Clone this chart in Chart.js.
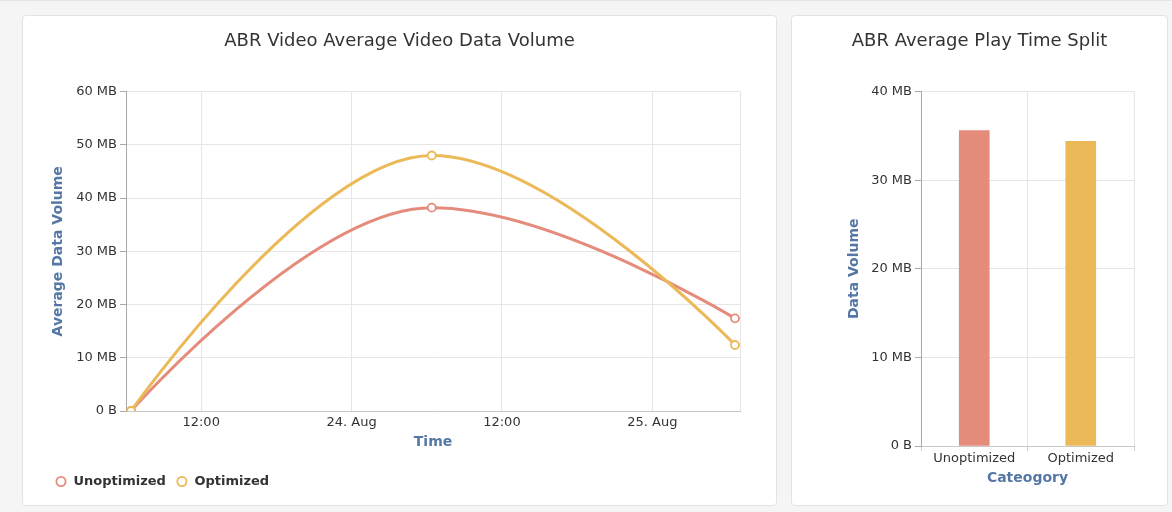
<!DOCTYPE html>
<html>
<head>
<meta charset="utf-8">
<script src="https://cdn.jsdelivr.net/npm/chart.js@4/dist/chart.umd.min.js"></script>
<style>
  html, body { margin: 0; padding: 0; }
  body { width: 1172px; height: 512px; background: #f5f5f5; position: relative; overflow: hidden; border-top: 1px solid #e4e4e4; box-sizing: border-box; }
  .card { position: absolute; background: #fff; border: 1px solid #e3e3e3; border-radius: 4px; box-sizing: border-box; }
  #leftCard { left: 22px; top: 14px; width: 755px; height: 491px; }
  #rightCard { left: 791px; top: 14px; width: 377px; height: 491px; }
  .card canvas { position: absolute; left: 0; top: 0; }
</style>
</head>
<body>
<div class="card" id="leftCard"><canvas id="volumeChart"></canvas></div>
<div class="card" id="rightCard"><canvas id="splitChart"></canvas></div>
<script>
// hours counted from 23 Aug 00:00
const timeHours = [6.4, 30.4, 54.6];
const unoptimizedMB = [0, 38.2, 17.4];
const optimizedMB = [0, 48.0, 12.4];
const timeTickHours = [12, 24, 36, 48, 55];
const timeTickLabels = ['12:00', '24. Aug', '12:00', '25. Aug', ''];

const categories = ['Unoptimized', 'Optimized'];
const playTimeMB = [35.6, 34.4];

const RED = '#e58b7c';
const YELLOW = '#ebb957';
const AXIS_BLUE = '#5577a5';

Chart.defaults.font.family = 'DejaVu Sans';
Chart.defaults.color = '#333';

const mbLabel = v => v === 0 ? '0 B' : v + ' MB';

function toPoints(values) {
    return values.map((v, i) => ({ x: timeHours[i], y: v }));
}

// spline control points: flat tangent at peaks, no handles at the ends
function splineControls(points) {
    const s = 1.5, d = 2.5;
    points.forEach((p, i) => {
        const prev = points[i - 1], next = points[i + 1];
        if (!prev || !next) {
            p.cp1x = p.cp2x = p.x;
            p.cp1y = p.cp2y = p.y;
            return;
        }
        const lx = (s * p.x + prev.x) / d, rx = (s * p.x + next.x) / d;
        let ly = (s * p.y + prev.y) / d, ry = (s * p.y + next.y) / d;
        const corr = (ry - ly) * (rx - p.x) / (rx - lx) + p.y - ry;
        ly += corr; ry += corr;
        if (ly > prev.y && ly > p.y) { ly = Math.max(prev.y, p.y); ry = 2 * p.y - ly; }
        else if (ly < prev.y && ly < p.y) { ly = Math.min(prev.y, p.y); ry = 2 * p.y - ly; }
        if (ry > next.y && ry > p.y) { ry = Math.max(next.y, p.y); ly = 2 * p.y - ry; }
        else if (ry < next.y && ry < p.y) { ry = Math.min(next.y, p.y); ly = 2 * p.y - ry; }
        p.cp1x = lx; p.cp1y = ly; p.cp2x = rx; p.cp2y = ry;
    });
}

const splinePlugin = {
    id: 'spline',
    afterDatasetUpdate(chart, args) {
        const line = chart.getDatasetMeta(args.index).dataset;
        if (line) line.updateControlPoints = function () { splineControls(this.points); };
    }
};

// centre the title on the whole card instead of the padded box
const centerTitle = {
    id: 'centerTitle',
    afterLayout(chart) {
        const t = chart.titleBlock;
        if (t) { t.left = 0; t.right = chart.width; t.width = chart.width; }
    }
};

// --- Line chart: average video data volume over time ---
new Chart(document.getElementById('volumeChart'), {
    type: 'line',
    plugins: [splinePlugin, centerTitle],
    data: {
        datasets: [
            {
                label: 'Unoptimized',
                data: toPoints(unoptimizedMB),
                borderColor: RED, borderWidth: 3, order: 1, tension: 0.4,
                pointRadius: 4, pointBorderWidth: 1.8,
                pointBackgroundColor: '#fff', pointBorderColor: RED,
                pointStyle: 'circle'
            },
            {
                label: 'Optimized',
                data: toPoints(optimizedMB),
                borderColor: YELLOW, borderWidth: 3, order: 0, tension: 0.4,
                pointRadius: 4, pointBorderWidth: 1.8,
                pointBackgroundColor: '#fff', pointBorderColor: YELLOW,
                pointStyle: 'circle'
            }
        ]
    },
    options: {
        responsive: true,
        maintainAspectRatio: false,
        animation: false,
        layout: { padding: { left: 22, right: 36, bottom: 7 } },
        scales: {
            x: {
                type: 'linear', min: 6, max: 55,
                afterBuildTicks: s => { s.ticks = timeTickHours.map(v => ({ value: v })); },
                afterFit: s => { s.height = 54; },
                ticks: {
                    font: { size: 13 }, color: '#333', padding: 4, maxRotation: 0,
                    callback: (v, i) => timeTickLabels[i]
                },
                grid: { color: '#e6e6e6', drawTicks: false },
                border: { color: '#c8c8c8' },
                title: {
                    display: true, text: 'Time', color: AXIS_BLUE,
                    font: { size: 14, weight: 'bold' }, padding: { top: 0, bottom: 14 }
                }
            },
            y: {
                min: 0, max: 60,
                afterFit: s => { s.width = 81; },
                ticks: { stepSize: 10, font: { size: 13 }, color: '#333', padding: 3, callback: mbLabel },
                grid: { color: '#e6e6e6', tickLength: 6, tickColor: '#aaa' },
                border: { color: '#a8a8a8' },
                title: {
                    display: true, text: 'Average Data Volume', color: AXIS_BLUE,
                    font: { size: 14, weight: 'bold' }, padding: { top: 5, bottom: 0 }
                }
            }
        },
        plugins: {
            title: {
                display: true, text: 'ABR Video Average Video Data Volume',
                font: { size: 18, weight: 'normal' }, color: '#333',
                padding: { top: 15, bottom: 39 }
            },
            legend: {
                position: 'bottom', align: 'start',
                labels: {
                    usePointStyle: true, boxHeight: 6.5, boxWidth: 12,
                    font: { size: 13, weight: 'bold' }, color: '#333',
                    sort: (a, b) => a.datasetIndex - b.datasetIndex
                }
            },
            tooltip: { enabled: false }
        }
    }
});

// --- Bar chart: play time split per category ---
new Chart(document.getElementById('splitChart'), {
    type: 'bar',
    plugins: [centerTitle],
    data: {
        labels: categories,
        datasets: [{
            label: 'Data Volume',
            data: playTimeMB,
            backgroundColor: [RED, YELLOW],
            barThickness: 30
        }]
    },
    options: {
        responsive: true,
        maintainAspectRatio: false,
        animation: false,
        layout: { padding: { right: 33 } },
        scales: {
            x: {
                afterFit: s => { s.height = 59; },
                ticks: { font: { size: 13 }, color: '#333', padding: 0 },
                grid: { color: '#e6e6e6', tickLength: 5, tickColor: '#ccc' },
                border: { color: '#c8c8c8' },
                title: {
                    display: true, text: 'Cateogory', color: AXIS_BLUE,
                    font: { size: 14, weight: 'bold' }, padding: { top: 0, bottom: 18 }
                }
            },
            y: {
                min: 0, max: 40,
                afterFit: s => { s.width = 129; },
                ticks: { stepSize: 10, font: { size: 13 }, color: '#333', padding: 3, callback: mbLabel },
                grid: { color: '#e6e6e6', tickLength: 6, tickColor: '#aaa' },
                border: { color: '#a8a8a8' },
                title: {
                    display: true, text: 'Data Volume', color: AXIS_BLUE,
                    font: { size: 14, weight: 'bold' }, padding: { top: 54, bottom: 0 }
                }
            }
        },
        plugins: {
            title: {
                display: true, text: 'ABR Average Play Time Split',
                font: { size: 18, weight: 'normal' }, color: '#333',
                padding: { top: 15, bottom: 39 }
            },
            legend: { display: false },
            tooltip: { enabled: false }
        }
    }
});
</script>
</body>
</html>
